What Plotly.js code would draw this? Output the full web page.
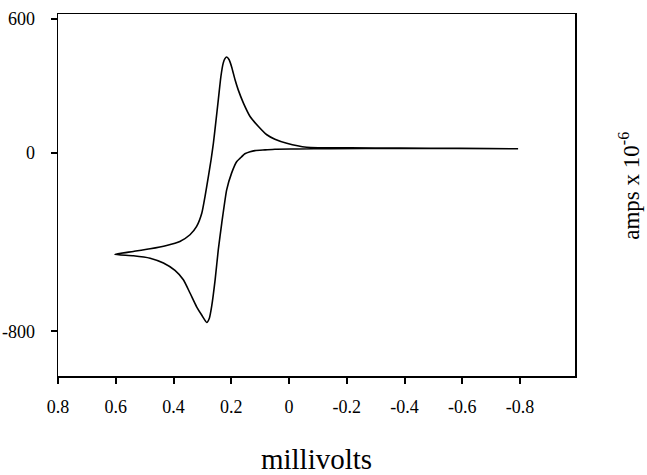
<!DOCTYPE html>
<html>
<head>
<meta charset="utf-8">
<script src="https://cdn.plot.ly/plotly-3.0.1.min.js"></script>
<style>html,body{margin:0;padding:0;background:#fff;}</style>
</head>
<body>
<div id="chart" style="width:647px;height:475px;"></div>
<script>
// Potential (x) and current (y, amps x 10^-6), traced around the voltammogram loop
const potential = [
  -0.793, -0.592, -0.384, -0.211, -0.061, 0.008, 0.049, 0.077, 0.106, 0.135,
  0.158, 0.176, 0.187, 0.199, 0.208, 0.216, 0.222, 0.228, 0.236, 0.245,
  0.254, 0.262, 0.270, 0.278, 0.291, 0.302, 0.320, 0.343, 0.378, 0.424,
  0.481, 0.539, 0.603,
  0.539, 0.481, 0.435, 0.395, 0.366, 0.343, 0.320, 0.302, 0.285, 0.276,
  0.268, 0.256, 0.245, 0.233, 0.216, 0.199, 0.181, 0.170, 0.153, 0.135,
  0.118, 0.083, 0.049, -0.027, -0.142, -0.384, -0.793
];
const current = [
  18, 20, 21, 22, 25, 43, 61, 81, 118, 163,
  223, 282, 327, 386, 418, 429, 422, 402, 342, 237,
  133, 43, -31, -95, -196, -270, -330, -367, -397, -415,
  -430, -442, -455,
  -461, -472, -494, -527, -569, -628, -690, -728, -760, -741,
  -688, -569, -434, -315, -166, -91, -39, -25, -4, 5,
  10, 13, 16, 17, 19, 20, 18
];
const xTickVals = [0.8, 0.6, 0.4, 0.2, 0, -0.2, -0.4, -0.6, -0.8];
const xTickText = ["0.8", "0.6", "0.4", "0.2", "0", "-0.2", "-0.4", "-0.6", "-0.8"];
const yTickVals = [600, 0, -800];
const yTickText = ["600", "0", "-800"];

const font = "Liberation Serif, Times New Roman, serif";

const trace = {
  x: potential,
  y: current,
  type: "scatter",
  mode: "lines",
  line: {color: "#000", width: 1.6, shape: "spline", smoothing: 0.5},
  hoverinfo: "skip"
};

const layout = {
  width: 647,
  height: 475,
  margin: {l: 58, r: 72, t: 14, b: 99},
  paper_bgcolor: "#fff",
  plot_bgcolor: "#fff",
  showlegend: false,
  font: {family: font, color: "#000", size: 18},
  xaxis: {
    range: [0.8, -0.99],
    tickvals: xTickVals,
    ticktext: xTickText,
    ticks: "outside",
    ticklen: 6,
    tickwidth: 2,
    tickcolor: "#000",
    ticklabelstandoff: 8,
    showline: true,
    linecolor: "#000",
    linewidth: 1.5,
    mirror: true,
    showgrid: false,
    zeroline: false,
    tickfont: {family: font, size: 18, color: "#000"},
    title: {text: "millivolts", font: {family: font, size: 29, color: "#000"}, standoff: 40},
    automargin: false
  },
  yaxis: {
    range: [-1000, 622],
    tickvals: yTickVals,
    ticktext: yTickText,
    ticks: "outside",
    ticklen: 6,
    tickwidth: 2,
    tickcolor: "#000",
    ticklabelstandoff: 12,
    showline: true,
    linecolor: "#000",
    linewidth: 1.5,
    mirror: true,
    showgrid: false,
    zeroline: false,
    tickfont: {family: font, size: 18, color: "#000"},
    automargin: false
  },
  annotations: [{
    text: "amps x 10<sup>-6</sup>",
    xref: "paper", yref: "paper",
    x: 1.106, y: 0.525,
    xanchor: "center", yanchor: "middle",
    textangle: -90,
    showarrow: false,
    font: {family: font, size: 23, color: "#000"}
  }]
};

Plotly.newPlot("chart", [trace], layout, {displayModeBar: false, staticPlot: true});
</script>
</body>
</html>
